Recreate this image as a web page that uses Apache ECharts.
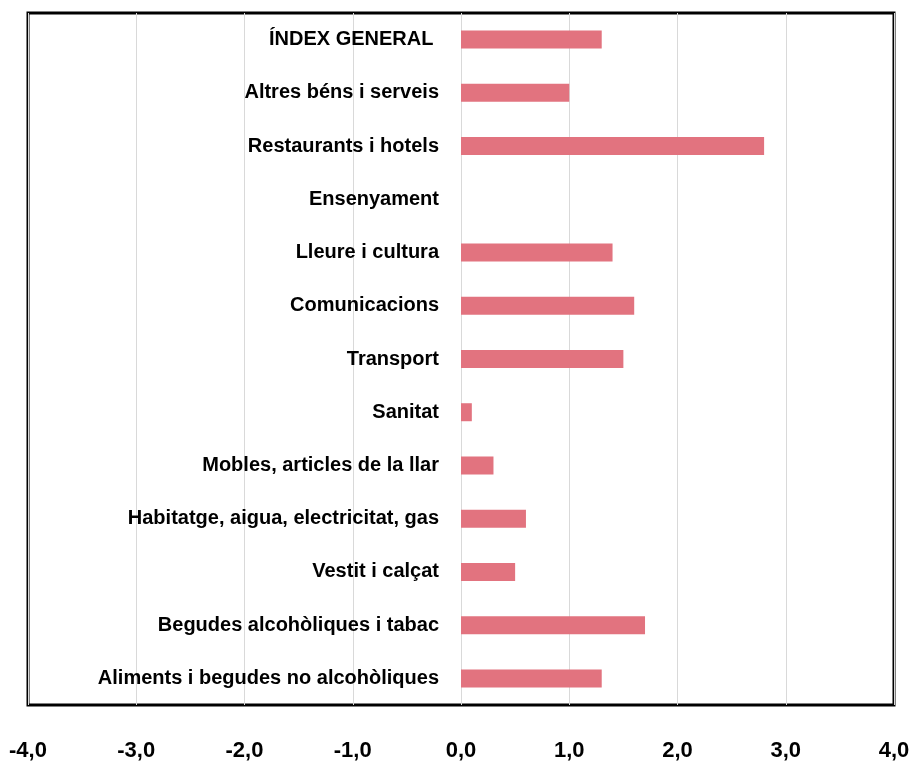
<!DOCTYPE html>
<html>
<head>
<meta charset="utf-8">
<script src="https://cdn.jsdelivr.net/npm/echarts@6/dist/echarts.min.js"></script>
<style>
  html, body { margin: 0; padding: 0; background: #fff; }
  #chart { width: 912px; height: 765px; }
</style>
</head>
<body>
<div id="chart"></div>
<script>
// categories from top to bottom
var categories = [
    'ÍNDEX GENERAL ',
    'Altres béns i serveis',
    'Restaurants i hotels',
    'Ensenyament',
    'Lleure i cultura',
    'Comunicacions',
    'Transport',
    'Sanitat',
    'Mobles, articles de la llar',
    'Habitatge, aigua, electricitat, gas',
    'Vestit i calçat',
    'Begudes alcohòliques i tabac',
    'Aliments i begudes no alcohòliques'
];
var values = [1.3, 1.0, 2.8, 0, 1.4, 1.6, 1.5, 0.1, 0.3, 0.6, 0.5, 1.7, 1.3];

var labelFont = '"Liberation Sans", Arial, sans-serif';

var myChart = echarts.init(document.getElementById('chart'));
myChart.setOption({
    animation: false,
    grid: {
        left: 28,
        right: 18,
        top: 13,
        bottom: 60,
        containLabel: false,
        outerBoundsMode: 'none',
        show: true,
        borderColor: '#000',
        borderWidth: 3,
        backgroundColor: '#fff'
    },
    xAxis: {
        type: 'value',
        min: -4,
        max: 4,
        interval: 1,
        axisLine: { show: false },
        axisTick: { show: false },
        splitLine: { lineStyle: { color: '#d9d9d9', width: 1 } },
        axisLabel: {
            margin: 35,
            color: '#000',
            fontFamily: labelFont,
            fontWeight: 'bold',
            fontSize: 22,
            formatter: function (v) { return v.toFixed(1).replace('.', ','); }
        }
    },
    yAxis: {
        type: 'category',
        inverse: true,
        data: categories,
        axisLine: { show: false, onZero: false },
        axisTick: { show: false },
        // labels sit just left of the 0 line, inside the frame
        axisLabel: {
            margin: -411,
            align: 'right',
            color: '#000',
            fontFamily: labelFont,
            fontWeight: 'bold',
            fontSize: 20
        }
    },
    series: [
        {
            type: 'bar',
            data: values,
            barWidth: 18,
            itemStyle: { color: '#e2737f' }
        }
    ]
});
</script>
</body>
</html>
